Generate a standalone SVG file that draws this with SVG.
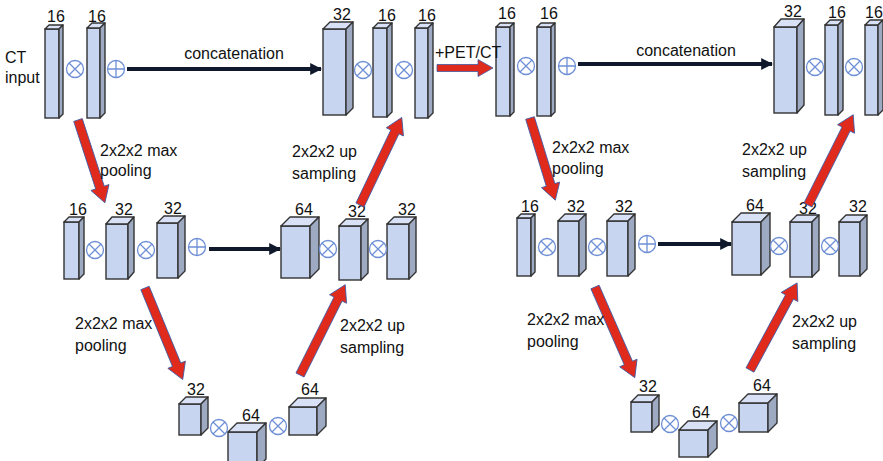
<svg xmlns="http://www.w3.org/2000/svg" width="883" height="461" viewBox="0 0 883 461">
<style>
  text { font-family: "Liberation Sans", Arial, sans-serif; font-size: 16px; fill: #111; }
  .num { text-anchor: middle; }
  .front { fill: #c7d5f0; stroke: #333; stroke-width: 1.4; }
  .top { fill: #d8e1f5; stroke: #333; stroke-width: 1.4; stroke-linejoin: round; }
  .side { fill: #9ea9c2; stroke: #333; stroke-width: 1.4; stroke-linejoin: round; }
  .op { fill: #fff; stroke: #6e8fd6; stroke-width: 1.3; }
  .concat { stroke: #10182c; stroke-width: 4; fill: none; }
  .red { fill: #e02a1c; stroke: #3c5aa6; stroke-width: 0.8; }
</style>
<defs>
  <marker id="head" viewBox="0 0 10 10" refX="9" refY="5" markerWidth="3" markerHeight="3" orient="auto">
    <path d="M0,0 L10,5 L0,10 Z" fill="#10182c"/>
  </marker>
  <!-- operator symbols -->
  <g id="mul"><circle class="op" r="8.5"/><path class="op" d="M-6,-6 L6,6 M6,-6 L-6,6"/></g>
  <g id="add"><circle class="op" r="8.5"/><path class="op" d="M0,-8.5 V8.5 M-8.5,0 H8.5"/></g>
</defs>

<!-- ===== encoder / decoder 1 ===== -->
<g id="box-a1"><rect class="front" x="45" y="29" width="14" height="89"/><path class="top" d="M45,29 L49,25 L63,25 L59,29 Z"/><path class="side" d="M59,29 L63,25 L63,114 L59,118 Z"/><text class="num" x="56" y="22">16</text></g>
<g id="box-a2"><rect class="front" x="87" y="28" width="13" height="90"/><path class="top" d="M87,28 L92,23 L105,23 L100,28 Z"/><path class="side" d="M100,28 L105,23 L105,113 L100,118 Z"/><text class="num" x="97" y="22">16</text></g>
<g id="box-a3"><rect class="front" x="323" y="29" width="23" height="86"/><path class="top" d="M323,29 L330,22 L353,22 L346,29 Z"/><path class="side" d="M346,29 L353,22 L353,108 L346,115 Z"/><text class="num" x="342" y="20">32</text></g>
<g id="box-a4"><rect class="front" x="373" y="28" width="14" height="89"/><path class="top" d="M373,28 L378,23 L392,23 L387,28 Z"/><path class="side" d="M387,28 L392,23 L392,112 L387,117 Z"/><text class="num" x="387" y="21">16</text></g>
<g id="box-a5"><rect class="front" x="415" y="28" width="13" height="90"/><path class="top" d="M415,28 L420,23 L433,23 L428,28 Z"/><path class="side" d="M428,28 L433,23 L433,113 L428,118 Z"/><text class="num" x="427" y="21">16</text></g>

<g id="box-b1"><rect class="front" x="64" y="222" width="15" height="57"/><path class="top" d="M64,222 L69,217 L84,217 L79,222 Z"/><path class="side" d="M79,222 L84,217 L84,274 L79,279 Z"/><text class="num" x="78" y="215">16</text></g>
<g id="box-b2"><rect class="front" x="106" y="224" width="22" height="55"/><path class="top" d="M106,224 L112,217 L134,217 L128,224 Z"/><path class="side" d="M128,224 L134,217 L134,272 L128,279 Z"/><text class="num" x="124" y="215">32</text></g>
<g id="box-b3"><rect class="front" x="157" y="223" width="21" height="55"/><path class="top" d="M157,223 L164,216 L185,216 L178,223 Z"/><path class="side" d="M178,223 L185,216 L185,271 L178,278 Z"/><text class="num" x="173" y="214">32</text></g>
<g id="box-b4"><rect class="front" x="281" y="226" width="29" height="52"/><path class="top" d="M281,226 L290,217 L319,217 L310,226 Z"/><path class="side" d="M310,226 L319,217 L319,269 L310,278 Z"/><text class="num" x="304" y="215">64</text></g>
<g id="box-b5"><rect class="front" x="339" y="226" width="22" height="54"/><path class="top" d="M339,226 L346,219 L368,219 L361,226 Z"/><path class="side" d="M361,226 L368,219 L368,273 L361,280 Z"/><text class="num" x="357" y="217">32</text></g>
<g id="box-b6"><rect class="front" x="387" y="224" width="22" height="55"/><path class="top" d="M387,224 L394,217 L416,217 L409,224 Z"/><path class="side" d="M409,224 L416,217 L416,272 L409,279 Z"/><text class="num" x="407" y="215">32</text></g>

<g id="box-c1"><rect class="front" x="179" y="404" width="22" height="31"/><path class="top" d="M179,404 L186,397 L208,397 L201,404 Z"/><path class="side" d="M201,404 L208,397 L208,428 L201,435 Z"/><text class="num" x="196" y="395">32</text></g>
<g id="box-c2"><rect class="front" x="228" y="432" width="29" height="36"/><path class="top" d="M228,432 L237,423 L266,423 L257,432 Z"/><path class="side" d="M257,432 L266,423 L266,459 L257,468 Z"/><text class="num" x="251" y="421">64</text></g>
<g id="box-c3"><rect class="front" x="289" y="407" width="28" height="28"/><path class="top" d="M289,407 L298,398 L326,398 L317,407 Z"/><path class="side" d="M317,407 L326,398 L326,426 L317,435 Z"/><text class="num" x="310" y="395">64</text></g>

<!-- ===== encoder / decoder 2 ===== -->
<g id="box-d1"><rect class="front" x="496" y="27" width="14" height="89"/><path class="top" d="M496,27 L500,23 L514,23 L510,27 Z"/><path class="side" d="M510,27 L514,23 L514,112 L510,116 Z"/><text class="num" x="507" y="19">16</text></g>
<g id="box-d2"><rect class="front" x="537" y="27" width="14" height="89"/><path class="top" d="M537,27 L541,23 L555,23 L551,27 Z"/><path class="side" d="M551,27 L555,23 L555,112 L551,116 Z"/><text class="num" x="549" y="19">16</text></g>
<g id="box-d3"><rect class="front" x="774" y="27" width="23" height="86"/><path class="top" d="M774,27 L781,19 L804,19 L797,27 Z"/><path class="side" d="M797,27 L804,19 L804,105 L797,113 Z"/><text class="num" x="793" y="17">32</text></g>
<g id="box-d4"><rect class="front" x="825" y="25" width="13" height="90"/><path class="top" d="M825,25 L830,20 L843,20 L838,25 Z"/><path class="side" d="M838,25 L843,20 L843,110 L838,115 Z"/><text class="num" x="837" y="18">16</text></g>
<g id="box-d5"><rect class="front" x="865" y="25" width="13" height="90"/><path class="top" d="M865,25 L870,20 L883,20 L878,25 Z"/><path class="side" d="M878,25 L883,20 L883,110 L878,115 Z"/><text class="num" x="874" y="18">16</text></g>

<g id="box-e1"><rect class="front" x="517" y="218" width="14" height="58"/><path class="top" d="M517,218 L521,214 L535,214 L531,218 Z"/><path class="side" d="M531,218 L535,214 L535,272 L531,276 Z"/><text class="num" x="530" y="212">16</text></g>
<g id="box-e2"><rect class="front" x="558" y="221" width="21" height="55"/><path class="top" d="M558,221 L565,214 L586,214 L579,221 Z"/><path class="side" d="M579,221 L586,214 L586,269 L579,276 Z"/><text class="num" x="576" y="212">32</text></g>
<g id="box-e3"><rect class="front" x="607" y="221" width="21" height="55"/><path class="top" d="M607,221 L614,214 L635,214 L628,221 Z"/><path class="side" d="M628,221 L635,214 L635,269 L628,276 Z"/><text class="num" x="624" y="212">32</text></g>
<g id="box-e4"><rect class="front" x="732" y="222" width="29" height="53"/><path class="top" d="M732,222 L741,213 L770,213 L761,222 Z"/><path class="side" d="M761,222 L770,213 L770,266 L761,275 Z"/><text class="num" x="755" y="211">64</text></g>
<g id="box-e5"><rect class="front" x="790" y="222" width="22" height="55"/><path class="top" d="M790,222 L797,215 L819,215 L812,222 Z"/><path class="side" d="M812,222 L819,215 L819,270 L812,277 Z"/><text class="num" x="808" y="214">32</text></g>
<g id="box-e6"><rect class="front" x="839" y="222" width="21" height="54"/><path class="top" d="M839,222 L846,215 L867,215 L860,222 Z"/><path class="side" d="M860,222 L867,215 L867,269 L860,276 Z"/><text class="num" x="858" y="212">32</text></g>

<g id="box-f1"><rect class="front" x="631" y="402" width="21" height="30"/><path class="top" d="M631,402 L638,395 L659,395 L652,402 Z"/><path class="side" d="M652,402 L659,395 L659,425 L652,432 Z"/><text class="num" x="648" y="392">32</text></g>
<g id="box-f2"><rect class="front" x="679" y="430" width="29" height="27"/><path class="top" d="M679,430 L688,421 L717,421 L708,430 Z"/><path class="side" d="M708,430 L717,421 L717,448 L708,457 Z"/><text class="num" x="701" y="418">64</text></g>
<g id="box-f3"><rect class="front" x="739" y="403" width="29" height="29"/><path class="top" d="M739,403 L748,394 L777,394 L768,403 Z"/><path class="side" d="M768,403 L777,394 L777,423 L768,432 Z"/><text class="num" x="762" y="391">64</text></g>

<!-- ===== operators ===== -->
<g id="ops">
  <use href="#mul" x="75" y="69"/><use href="#add" x="116" y="69"/>
  <use href="#mul" x="363" y="70"/><use href="#mul" x="404" y="70"/>
  <use href="#mul" x="95" y="250"/><use href="#mul" x="146" y="250"/><use href="#add" x="197" y="247"/>
  <use href="#mul" x="328" y="249"/><use href="#mul" x="378" y="249"/>
  <use href="#mul" x="219" y="428"/><use href="#mul" x="278" y="426"/>
  <use href="#mul" x="526" y="66"/><use href="#add" x="567" y="66"/>
  <use href="#mul" x="815" y="67"/><use href="#mul" x="854" y="67"/>
  <use href="#mul" x="547" y="247"/><use href="#mul" x="597" y="247"/><use href="#add" x="647" y="244"/>
  <use href="#mul" x="779" y="246"/><use href="#mul" x="830" y="246"/>
  <use href="#mul" x="670" y="424"/><use href="#mul" x="729" y="423"/>
</g>

<!-- ===== connectors ===== -->
<g id="connectors">
  <line class="concat" x1="127" y1="69" x2="321" y2="69" marker-end="url(#head)"/>
  <line class="concat" x1="209" y1="249" x2="280" y2="249" marker-end="url(#head)"/>
  <line class="concat" x1="578" y1="64" x2="772" y2="64" marker-end="url(#head)"/>
  <line class="concat" x1="658" y1="244" x2="731" y2="244" marker-end="url(#head)"/>

  <!-- pooling / up-sampling arrows -->
  <g transform="translate(78,120) rotate(72)"><path class="red" d="M0,-4.5 H71 V-9.5 L87,0 L71,9.5 V4.5 H0 Z"/></g>
  <g transform="translate(145,288) rotate(67.6)"><path class="red" d="M0,-4.5 H83 V-9.5 L99,0 L83,9.5 V4.5 H0 Z"/></g>
  <g transform="translate(300,375) rotate(-63.4)"><path class="red" d="M0,-4.5 H85 V-9.5 L101,0 L85,9.5 V4.5 H0 Z"/></g>
  <g transform="translate(360,205) rotate(-64.5)"><path class="red" d="M0,-4.5 H81 V-9.5 L97,0 L81,9.5 V4.5 H0 Z"/></g>

  <g transform="translate(530,118) rotate(72.9)"><path class="red" d="M0,-4.5 H70 V-9.5 L86,0 L70,9.5 V4.5 H0 Z"/></g>
  <g transform="translate(595,287) rotate(66.3)"><path class="red" d="M0,-4.5 H83 V-9.5 L99,0 L83,9.5 V4.5 H0 Z"/></g>
  <g transform="translate(750,370) rotate(-61.6)"><path class="red" d="M0,-4.5 H83 V-9.5 L99,0 L83,9.5 V4.5 H0 Z"/></g>
  <g transform="translate(808,205) rotate(-63.4)"><path class="red" d="M0,-4.5 H85 V-9.5 L101,0 L85,9.5 V4.5 H0 Z"/></g>

  <path class="red" d="M437,64.5 H478 V59.5 L493,68 L478,76.5 V71.5 H437 Z"/>
</g>

<!-- ===== labels ===== -->
<g id="labels">
  <text x="5" y="63">CT</text>
  <text x="5" y="83">input</text>
  <text x="234" y="59" text-anchor="middle">concatenation</text>
  <text x="686" y="56" text-anchor="middle">concatenation</text>
  <text x="435" y="58">+PET/CT</text>

  <text x="100" y="156">2x2x2 max</text><text x="100" y="176">pooling</text>
  <text x="75" y="329">2x2x2 max</text><text x="75" y="351">pooling</text>
  <text x="292" y="157">2x2x2 up</text><text x="292" y="179">sampling</text>
  <text x="340" y="331">2x2x2 up</text><text x="340" y="353">sampling</text>

  <text x="552" y="153">2x2x2 max</text><text x="552" y="174">pooling</text>
  <text x="527" y="325">2x2x2 max</text><text x="527" y="347">pooling</text>
  <text x="742" y="155">2x2x2 up</text><text x="742" y="177">sampling</text>
  <text x="792" y="327">2x2x2 up</text><text x="792" y="349">sampling</text>
</g>
</svg>
